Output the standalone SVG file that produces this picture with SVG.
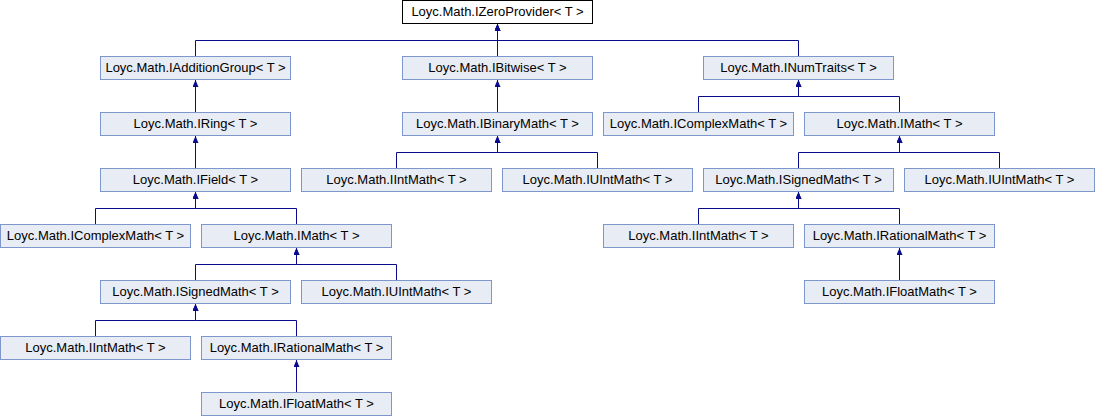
<svg xmlns="http://www.w3.org/2000/svg" width="1095" height="416" viewBox="0 0 1095 416">
<style>
.n rect{fill:#E8ECF4;stroke:#7D97CC;stroke-width:1}
.root rect{fill:#FFFFFF;stroke:#000000}
.n text{font-family:"Liberation Sans",Arial,sans-serif;font-size:13px;fill:#000;text-anchor:middle}
.e path{fill:none;stroke:#0A0A8C;stroke-width:1;marker-end:url(#ah)}
</style>
<defs>
<marker id="ah" markerUnits="userSpaceOnUse" markerWidth="7" markerHeight="6" viewBox="0 0 7 6" refX="7" refY="3" orient="auto">
<path d="M0,0 L7,3 L0,6 z" fill="#0A0A8C"/>
</marker>
</defs>
<rect width="1095" height="416" fill="#fff"/>
<g id="connectors" class="e">
<path d="M195.5,56.5 V40.5 H497.5 V24"/>
<path d="M497.5,56.5 V24"/>
<path d="M798.5,56.5 V40.5 H497.5 V24"/>
<path d="M195.5,112.5 V80"/>
<path d="M195.5,168.5 V136"/>
<path d="M95.5,224.5 V208.5 H195.5 V192"/>
<path d="M296.5,224.5 V208.5 H195.5 V192"/>
<path d="M195.5,280.5 V264.5 H296.5 V248"/>
<path d="M396.5,280.5 V264.5 H296.5 V248"/>
<path d="M95.5,336.5 V320.5 H195.5 V304"/>
<path d="M296.5,336.5 V320.5 H195.5 V304"/>
<path d="M296.5,392.5 V360"/>
<path d="M497.5,112.5 V80"/>
<path d="M396.5,168.5 V152.5 H497.5 V136"/>
<path d="M597.5,168.5 V152.5 H497.5 V136"/>
<path d="M698.5,112.5 V96.5 H798.5 V80"/>
<path d="M899.5,112.5 V96.5 H798.5 V80"/>
<path d="M798.5,168.5 V152.5 H899.5 V136"/>
<path d="M999.5,168.5 V152.5 H899.5 V136"/>
<path d="M698.5,224.5 V208.5 H798.5 V192"/>
<path d="M899.5,224.5 V208.5 H798.5 V192"/>
<path d="M899.5,280.5 V248"/>
</g>
<g id="IZeroProvider" class="n root"><rect x="402.5" y="0.5" width="190" height="23"/><text x="497.5" y="16">Loyc.Math.IZeroProvider&lt; T &gt;</text></g>
<g id="IAdditionGroup" class="n"><rect x="100.5" y="56.5" width="190" height="23"/><text x="195.5" y="72">Loyc.Math.IAdditionGroup&lt; T &gt;</text></g>
<g id="IBitwise" class="n"><rect x="402.5" y="56.5" width="190" height="23"/><text x="497.5" y="72">Loyc.Math.IBitwise&lt; T &gt;</text></g>
<g id="INumTraits" class="n"><rect x="703.5" y="56.5" width="190" height="23"/><text x="798.5" y="72">Loyc.Math.INumTraits&lt; T &gt;</text></g>
<g id="IRing" class="n"><rect x="100.5" y="112.5" width="190" height="23"/><text x="195.5" y="128">Loyc.Math.IRing&lt; T &gt;</text></g>
<g id="IBinaryMath" class="n"><rect x="402.5" y="112.5" width="190" height="23"/><text x="497.5" y="128">Loyc.Math.IBinaryMath&lt; T &gt;</text></g>
<g id="IComplexMath_R" class="n"><rect x="603.5" y="112.5" width="190" height="23"/><text x="698.5" y="128">Loyc.Math.IComplexMath&lt; T &gt;</text></g>
<g id="IMath_R" class="n"><rect x="804.5" y="112.5" width="190" height="23"/><text x="899.5" y="128">Loyc.Math.IMath&lt; T &gt;</text></g>
<g id="IField" class="n"><rect x="100.5" y="168.5" width="190" height="23"/><text x="195.5" y="184">Loyc.Math.IField&lt; T &gt;</text></g>
<g id="IIntMath_B" class="n"><rect x="301.5" y="168.5" width="190" height="23"/><text x="396.5" y="184">Loyc.Math.IIntMath&lt; T &gt;</text></g>
<g id="IUIntMath_B" class="n"><rect x="502.5" y="168.5" width="190" height="23"/><text x="597.5" y="184">Loyc.Math.IUIntMath&lt; T &gt;</text></g>
<g id="ISignedMath_R" class="n"><rect x="703.5" y="168.5" width="190" height="23"/><text x="798.5" y="184">Loyc.Math.ISignedMath&lt; T &gt;</text></g>
<g id="IUIntMath_R" class="n"><rect x="904.5" y="168.5" width="190" height="23"/><text x="999.5" y="184">Loyc.Math.IUIntMath&lt; T &gt;</text></g>
<g id="IComplexMath_L" class="n"><rect x="0.5" y="224.5" width="190" height="23"/><text x="95.5" y="240">Loyc.Math.IComplexMath&lt; T &gt;</text></g>
<g id="IMath_L" class="n"><rect x="201.5" y="224.5" width="190" height="23"/><text x="296.5" y="240">Loyc.Math.IMath&lt; T &gt;</text></g>
<g id="IIntMath_R" class="n"><rect x="603.5" y="224.5" width="190" height="23"/><text x="698.5" y="240">Loyc.Math.IIntMath&lt; T &gt;</text></g>
<g id="IRationalMath_R" class="n"><rect x="804.5" y="224.5" width="190" height="23"/><text x="899.5" y="240">Loyc.Math.IRationalMath&lt; T &gt;</text></g>
<g id="ISignedMath_L" class="n"><rect x="100.5" y="280.5" width="190" height="23"/><text x="195.5" y="296">Loyc.Math.ISignedMath&lt; T &gt;</text></g>
<g id="IUIntMath_L" class="n"><rect x="301.5" y="280.5" width="190" height="23"/><text x="396.5" y="296">Loyc.Math.IUIntMath&lt; T &gt;</text></g>
<g id="IFloatMath_R" class="n"><rect x="804.5" y="280.5" width="190" height="23"/><text x="899.5" y="296">Loyc.Math.IFloatMath&lt; T &gt;</text></g>
<g id="IIntMath_L" class="n"><rect x="0.5" y="336.5" width="190" height="23"/><text x="95.5" y="352">Loyc.Math.IIntMath&lt; T &gt;</text></g>
<g id="IRationalMath_L" class="n"><rect x="201.5" y="336.5" width="190" height="23"/><text x="296.5" y="352">Loyc.Math.IRationalMath&lt; T &gt;</text></g>
<g id="IFloatMath_L" class="n"><rect x="201.5" y="392.5" width="190" height="23"/><text x="296.5" y="408">Loyc.Math.IFloatMath&lt; T &gt;</text></g>
</svg>
